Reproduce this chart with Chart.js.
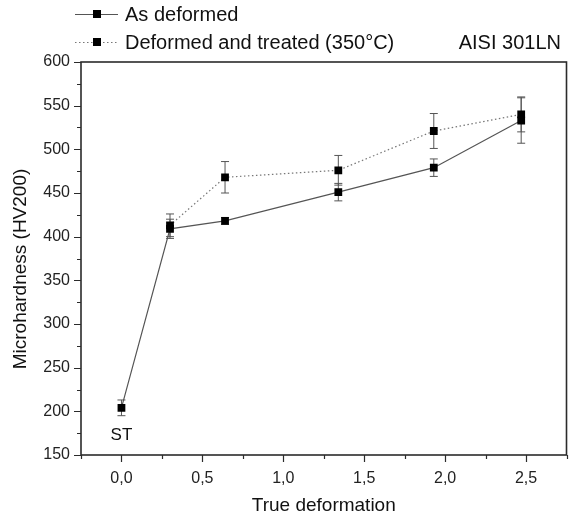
<!DOCTYPE html>
<html>
<head>
<meta charset="utf-8">
<script src="https://cdn.jsdelivr.net/npm/chart.js@4/dist/chart.umd.min.js"></script>
<style>
  html, body { margin: 0; padding: 0; background: #fff; }
  #wrap { width: 572px; height: 518px; }
</style>
</head>
<body>
<div id="wrap"><canvas id="c" width="572" height="518"></canvas></div>
<script>
// True deformation and Vickers microhardness (HV200) for AISI 301LN
const deformedX = [0, 0.30, 0.64, 1.34, 1.93, 2.47];
const deformedHV = [204, 409, 418, 451, 479, 533];
const deformedErr = [9, 11, 4, 10, 10, 26];

const treatedX = [0.30, 0.64, 1.34, 1.93, 2.47];
const treatedHV = [413, 468, 476, 521, 540];
const treatedErr = [13, 18, 17, 20, 20];

const seriesNames = ['As deformed', 'Deformed and treated (350°C)'];
const xTickValues = [-0.25, 0, 0.25, 0.5, 0.75, 1, 1.25, 1.5, 1.75, 2, 2.25, 2.5, 2.75];
const yTickValues = [150, 175, 200, 225, 250, 275, 300, 325, 350, 375, 400, 425, 450, 475, 500, 525, 550, 575, 600];
const yTitle = 'Microhardness (HV200)';

const FONT = 'Liberation Sans, Arial, Helvetica, sans-serif';
const AXIS = '#2b2b2b';

const toPoints = (xs, ys) => xs.map((x, i) => ({ x: x, y: ys[i] }));

// Error bars, axis frame, tick marks, y title and the key at the top
const decorations = {
  id: 'decorations',
  beforeDatasetsDraw(chart) {
    const ctx = chart.ctx;
    const xs = chart.scales.x, ys = chart.scales.y;
    const sets = [[deformedX, deformedHV, deformedErr], [treatedX, treatedHV, treatedErr]];
    ctx.save();
    ctx.strokeStyle = '#555';
    ctx.lineWidth = 1;
    sets.forEach(([X, Y, E]) => {
      X.forEach((xv, i) => {
        const px = xs.getPixelForValue(xv);
        const top = ys.getPixelForValue(Y[i] + E[i]);
        const bot = ys.getPixelForValue(Y[i] - E[i]);
        ctx.beginPath();
        ctx.moveTo(px, top); ctx.lineTo(px, bot);
        ctx.moveTo(px - 4, top); ctx.lineTo(px + 4, top);
        ctx.moveTo(px - 4, bot); ctx.lineTo(px + 4, bot);
        ctx.stroke();
      });
    });
    ctx.restore();
  },
  afterDraw(chart) {
    const ctx = chart.ctx;
    const a = chart.chartArea;
    const xs = chart.scales.x, ys = chart.scales.y;
    ctx.save();
    ctx.strokeStyle = AXIS;
    ctx.lineWidth = 1.6;
    ctx.strokeRect(a.left, a.top, a.right - a.left, a.bottom - a.top);

    ctx.lineWidth = 1.2;
    ctx.beginPath();
    xTickValues.forEach(v => {
      const px = Math.round(xs.getPixelForValue(v)) + 0.5;
      const major = Math.abs(v * 2 - Math.round(v * 2)) < 1e-6;
      ctx.moveTo(px, a.bottom);
      ctx.lineTo(px, a.bottom + (major ? 7 : 4));
    });
    yTickValues.forEach(v => {
      const py = Math.round(ys.getPixelForValue(v)) + 0.5;
      const major = v % 50 === 0;
      ctx.moveTo(a.left, py);
      ctx.lineTo(a.left - (major ? 7 : 4), py);
    });
    ctx.stroke();

    // y axis title
    ctx.fillStyle = '#111';
    ctx.font = '19px ' + FONT;
    ctx.textAlign = 'center';
    ctx.textBaseline = 'middle';
    ctx.save();
    ctx.translate(21, 269);
    ctx.rotate(-Math.PI / 2);
    ctx.fillText(yTitle, 0, 0);
    ctx.restore();

    // "ST" marks the solution-treated starting state
    ctx.font = '17px ' + FONT;
    ctx.fillText('ST', xs.getPixelForValue(0), 435);

    // Key
    const rows = [14, 42];
    chart.data.datasets.forEach((ds, i) => {
      const y = rows[i];
      ctx.strokeStyle = ds.borderColor;
      ctx.lineWidth = ds.borderWidth;
      ctx.setLineDash(ds.borderDash || []);
      ctx.beginPath();
      ctx.moveTo(75, y + 0.5); ctx.lineTo(118, y + 0.5);
      ctx.stroke();
      ctx.setLineDash([]);
      ctx.fillStyle = '#000';
      ctx.fillRect(93, y - 4, 8, 8);
      ctx.fillStyle = '#111';
      ctx.font = '20px ' + FONT;
      ctx.textAlign = 'left';
      ctx.textBaseline = 'middle';
      ctx.fillText(ds.label, 125, y + 1);
    });
    ctx.textAlign = 'right';
    ctx.fillText('AISI 301LN', 561, 43);
    ctx.restore();
  }
};

new Chart(document.getElementById('c'), {
  type: 'line',
  data: {
    datasets: [
      {
        label: seriesNames[0],
        data: toPoints(deformedX, deformedHV),
        borderColor: '#555',
        borderWidth: 1.2,
        pointStyle: 'rect',
        pointRadius: 5.5,
        pointBackgroundColor: '#000',
        pointBorderColor: '#000',
        pointBorderWidth: 0,
        tension: 0,
        fill: false
      },
      {
        label: seriesNames[1],
        data: toPoints(treatedX, treatedHV),
        borderColor: '#777',
        borderWidth: 1.2,
        borderDash: [1.5, 2.5],
        pointStyle: 'rect',
        pointRadius: 5.5,
        pointBackgroundColor: '#000',
        pointBorderColor: '#000',
        pointBorderWidth: 0,
        tension: 0,
        fill: false
      }
    ]
  },
  options: {
    responsive: false,
    animation: false,
    layout: { padding: { top: 62, right: 1, left: 0, bottom: 0 } },
    plugins: { legend: { display: false }, tooltip: { enabled: false } },
    scales: {
      x: {
        type: 'linear',
        min: -0.25,
        max: 2.75,
        afterFit: s => { s.height = 63; s.paddingRight = 0; s.paddingLeft = 0; },
        afterBuildTicks: s => { s.ticks = xTickValues.map(v => ({ value: v })); },
        grid: { display: true, drawOnChartArea: false, drawTicks: false, color: 'transparent' },
        border: { display: false },
        ticks: {
          autoSkip: false,
          maxRotation: 0,
          padding: 14,
          color: '#222',
          font: { family: FONT, size: 16 },
          callback: v => (Math.abs(v * 2 - Math.round(v * 2)) < 1e-6 && v >= 0 && v <= 2.5)
            ? v.toFixed(1).replace('.', ',') : ''
        },
        title: {
          display: true,
          text: 'True deformation',
          color: '#111',
          font: { family: FONT, size: 19 },
          padding: { top: 0, bottom: 1 }
        }
      },
      y: {
        min: 150,
        max: 600,
        afterFit: s => { s.width = 81; },
        afterBuildTicks: s => { s.ticks = yTickValues.map(v => ({ value: v })); },
        grid: { display: true, drawOnChartArea: false, drawTicks: false, color: 'transparent' },
        border: { display: false },
        ticks: {
          autoSkip: false,
          padding: 11,
          color: '#222',
          font: { family: FONT, size: 16 },
          callback: v => (v % 50 === 0 ? String(v) : '')
        },
        title: { display: false }
      }
    }
  },
  plugins: [decorations]
});
</script>
</body>
</html>
